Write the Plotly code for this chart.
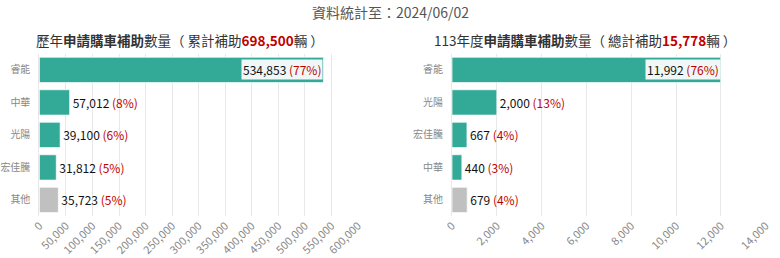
import plotly.graph_objects as go

# ---- data ----
left_cats = ["睿能", "中華", "光陽", "宏佳騰", "其他"]
left_vals = [534853, 57012, 39100, 31812, 35723]
left_pcts = ["77%", "8%", "6%", "5%", "5%"]
left_total = "698,500"

right_cats = ["睿能", "光陽", "宏佳騰", "中華", "其他"]
right_vals = [11992, 2000, 667, 440, 679]
right_pcts = ["76%", "13%", "4%", "3%", "4%"]
right_total = "15,778"

left_ticks = list(range(0, 600001, 50000))
right_ticks = list(range(0, 14001, 2000))

TEAL = "#33a997"
GRAY = "#c0c0c0"
RED = "#c00000"
FONT = "Noto Sans CJK TC, Noto Sans, sans-serif"

def colors(cats):
    return [GRAY if c == "其他" else TEAL for c in cats]

def labels(vals, pcts):
    return [f"{v:,} <span style='color:{RED}'>({p})</span>" for v, p in zip(vals, pcts)]

fig = go.Figure()
for cats, vals, pcts, ax in [(left_cats, left_vals, left_pcts, ""), (right_cats, right_vals, right_pcts, "2")]:
    fig.add_trace(go.Bar(
        y=cats, x=vals, orientation="h",
        marker=dict(color=colors(cats), line=dict(color="rgba(255,255,255,0.7)", width=1)),
        text=labels(vals, pcts),
        textposition=["none"] + ["outside"] * (len(vals) - 1),
        textfont=dict(family=FONT, size=12, color="#111"),
        cliponaxis=False,
        xaxis="x" + ax, yaxis="y" + ax,
        showlegend=False,
    ))
    # label of the top bar, drawn inside the bar end on a white box
    fig.add_annotation(
        x=vals[0], y=cats[0], xref="x" + ax, yref="y" + ax,
        text=labels(vals, pcts)[0], showarrow=False, xanchor="right", yanchor="middle",
        font=dict(family=FONT, size=12, color="#111"),
        bgcolor="rgba(255,255,255,0.92)", borderpad=1,
    )

def tickfmt(ticks):
    return [f"{t:,}" for t in ticks]

axis_common = dict(
    showgrid=True, gridcolor="#e8e8e8", gridwidth=1, zeroline=False,
    tickangle=-45, tickfont=dict(family=FONT, size=11, color="#888"),
    showline=False, ticks="", automargin=False,
)
yaxis_common = dict(
    domain=[0.162, 0.792], autorange="reversed",
    tickfont=dict(family=FONT, size=10, color="#888"), ticks="", ticklabelstandoff=6,
    showline=True, linecolor="#e8e8e8", automargin=False,
)
fig.update_layout(
    width=780, height=258,
    margin=dict(l=0, r=0, t=0, b=0),
    paper_bgcolor="white", plot_bgcolor="white",
    bargap=0.22,
    xaxis=dict(domain=[0.0505, 0.459], range=[0, 600000], tickvals=left_ticks, ticktext=tickfmt(left_ticks), anchor="y", **axis_common),
    yaxis=dict(anchor="x", **yaxis_common),
    xaxis2=dict(domain=[0.5795, 0.9817], range=[0, 14000], tickvals=right_ticks, ticktext=tickfmt(right_ticks), anchor="y2", **axis_common),
    yaxis2=dict(anchor="x2", **yaxis_common),
    font=dict(family=FONT),
)

fig.add_annotation(x=0.5, y=1 - 12 / 258, xref="paper", yref="paper", showarrow=False,
                   xanchor="center", yanchor="middle",
                   text="資料統計至：2024/06/02", font=dict(family=FONT, size=14, color="#555"))
fig.add_annotation(x=180 / 780, y=1 - 40 / 258, xref="paper", yref="paper", showarrow=False,
                   xanchor="center", yanchor="middle",
                   text=f"歷年<b>申請購車補助</b>數量（ 累計補助<b><span style='color:{RED}'>{left_total}</span></b>輛 ）",
                   font=dict(family=FONT, size=13.5, color="#333"))
fig.add_annotation(x=585 / 780, y=1 - 40 / 258, xref="paper", yref="paper", showarrow=False,
                   xanchor="center", yanchor="middle",
                   text=f"113年度<b>申請購車補助</b>數量（ 總計補助<b><span style='color:{RED}'>{right_total}</span></b>輛 ）",
                   font=dict(family=FONT, size=13.5, color="#333"))

fig.write_html("out.html")
